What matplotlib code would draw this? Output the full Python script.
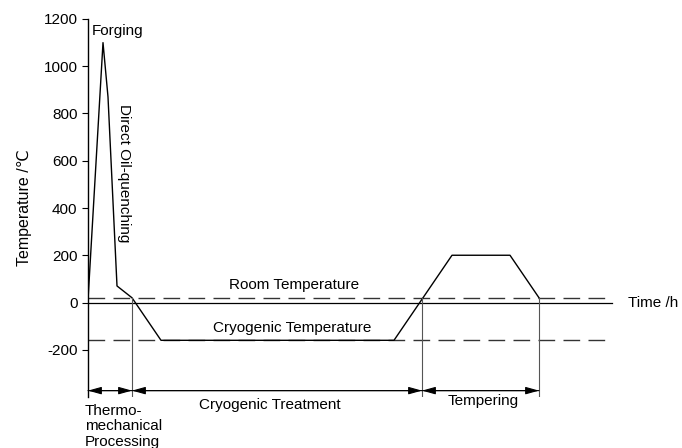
import matplotlib
matplotlib.use("Agg")
import matplotlib.pyplot as plt

plt.rcParams['font.family'] = ['Liberation Sans', 'DejaVu Sans']
plt.rcParams['axes.unicode_minus'] = False

# Data (time in arbitrary units, temperature in degC)
curve_time = [0, 15, 20, 29, 44, 73, 306, 364, 422, 451]
curve_temp = [10, 1100, 870, 70, 20, -160, -160, 200, 200, 20]
room_temp = 20
cryo_temp = -160
stage_bounds = [0, 44, 334, 451]
stage_labels = ["Thermo-\nmechanical\nProcessing", "Cryogenic Treatment", "Tempering"]
yticks = [-200, 0, 200, 400, 600, 800, 1000, 1200]

fig = plt.figure(figsize=(6.82, 4.48), dpi=100)
W, H = 682, 448
ax = fig.add_axes([88 / W, 1 - 397 / H, (682 - 88) / W, (397 - 19) / H])
ax.set_xlim(0, 594)
ax.set_ylim(-400, 1200)

for s in ['top', 'right', 'bottom']:
    ax.spines[s].set_visible(False)
ax.spines['left'].set_linewidth(1.0)
ax.set_xticks([])
ax.set_yticks(yticks)
ax.tick_params(axis='y', direction='out', length=4, labelsize=11)
ax.set_ylabel("Temperature /℃", fontsize=11.5, labelpad=8)

# time axis at 0
ax.plot([0, 524], [0, 0], color='black', lw=0.9)
# dashed reference lines
ax.plot([0, 520], [room_temp, room_temp], color='#333333', lw=1.0, dashes=(12, 6))
ax.plot([0, 520], [cryo_temp, cryo_temp], color='#333333', lw=1.0, dashes=(12, 6))

# process curve
ax.plot(curve_time, curve_temp, color='black', lw=1.0)

# vertical stage boundaries
for xb in stage_bounds[1:]:
    ax.plot([xb, xb], [room_temp, -400], color='#555555', lw=0.8)

# arrows
ya = -373
for a, b in zip(stage_bounds[:-1], stage_bounds[1:]):
    ax.annotate('', xy=(b, ya), xytext=(a, ya),
                arrowprops=dict(arrowstyle='-|>,head_length=0.9,head_width=0.25', color='black', lw=0.8,
                                mutation_scale=9, shrinkA=0, shrinkB=0))
    ax.annotate('', xy=(a, ya), xytext=(b, ya),
                arrowprops=dict(arrowstyle='-|>,head_length=0.9,head_width=0.25', color='black', lw=0.8,
                                mutation_scale=9, shrinkA=0, shrinkB=0))

fs = 11
ax.text(4, 1150, "Forging", fontsize=fs, ha='left', va='center')
ax.text(36, 546, "Direct Oil-quenching", fontsize=fs, rotation=-90, ha='center', va='center')
ax.text(206, 72, "Room Temperature", fontsize=fs, ha='center', va='center')
ax.text(204, -106, "Cryogenic Temperature", fontsize=fs, ha='center', va='center')
ax.text(540, 0, "Time /h", fontsize=fs, ha='left', va='center')
ax.text(-3, -428, stage_labels[0], fontsize=fs, ha='left', va='top', linespacing=1.15)
ax.text(182, -433, stage_labels[1], fontsize=fs, ha='center', va='center')
ax.text(395, -415, stage_labels[2], fontsize=fs, ha='center', va='center')

for t in ax.texts:
    t.set_clip_on(False)

fig.savefig("out.png", dpi=100)
